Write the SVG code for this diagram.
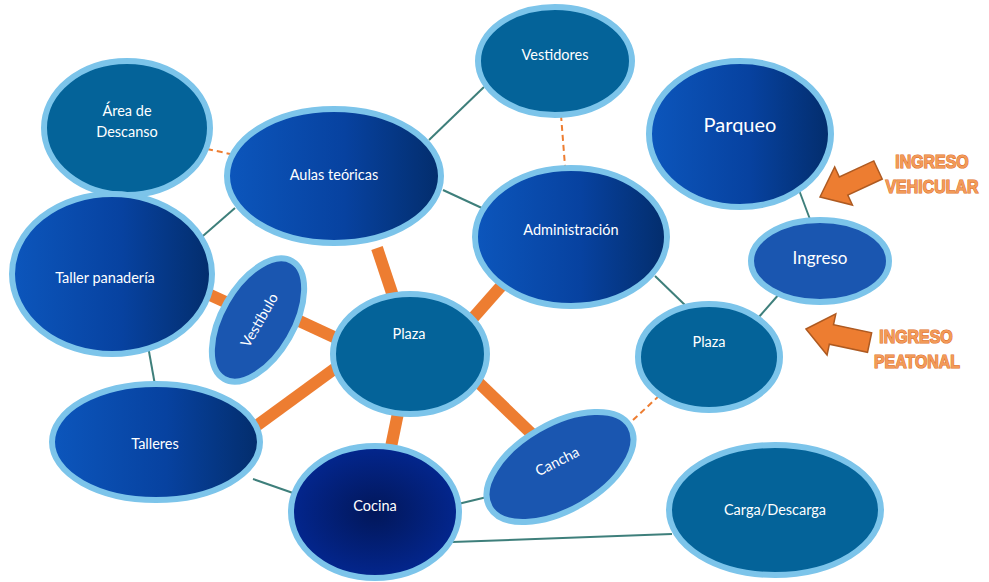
<svg xmlns="http://www.w3.org/2000/svg" width="989" height="582" viewBox="0 0 989 582">
<defs>
<linearGradient id="gBlue" x1="0" y1="0" x2="1" y2="0">
<stop offset="0" stop-color="#0C56BC"/>
<stop offset="0.55" stop-color="#0742A0"/>
<stop offset="1" stop-color="#032D6C"/>
</linearGradient>
<radialGradient id="gCocina" cx="0.5" cy="0.5" r="0.5">
<stop offset="0" stop-color="#02175A"/>
<stop offset="1" stop-color="#03268E"/>
</radialGradient>
<style>
.n{stroke:#7CC4EA;stroke-width:6}
.teal{fill:#046399}
.grad{fill:url(#gBlue)}
.mid{fill:#1A56B0}
.t{font-family:Lato,"Liberation Sans",sans-serif;font-size:14.5px;fill:#FFFFFF;text-anchor:middle;dominant-baseline:central}
.thin{stroke:#3E7F7B;stroke-width:2;fill:none}
.dash{stroke:#ED7D31;stroke-width:2;stroke-dasharray:6 4;fill:none}
.thick{stroke:#ED7D31;stroke-width:12;fill:none}
.arrow{fill:#ED7D31;stroke:#AE5A21;stroke-width:1.5}
.lbl{font-family:"Liberation Sans",Arial,sans-serif;font-weight:bold;font-size:19px;fill:#F29A58;stroke:#E0702A;stroke-width:1.2;paint-order:stroke;text-anchor:middle;dominant-baseline:central}
</style>
</defs>
<rect width="989" height="582" fill="#FFFFFF"/>
<g id="connectors">
<line class="thin" x1="484" y1="87" x2="429" y2="140"/>
<line class="thin" x1="235" y1="208" x2="196" y2="242"/>
<line class="thin" x1="443" y1="190" x2="484" y2="209"/>
<line class="thin" x1="655" y1="276" x2="686" y2="306"/>
<line class="thin" x1="799" y1="190" x2="811" y2="222"/>
<line class="thin" x1="780" y1="293" x2="758" y2="318"/>
<line class="thin" x1="148" y1="346" x2="155" y2="385"/>
<line class="thin" x1="253" y1="479" x2="293" y2="493"/>
<line class="thin" x1="458" y1="504" x2="487" y2="497"/>
<line class="thin" x1="452" y1="542" x2="672" y2="534"/>
<line class="dash" x1="207" y1="149" x2="235" y2="155"/>
<line class="dash" x1="127" y1="192" x2="120" y2="217"/>
<line class="dash" x1="561" y1="115" x2="565" y2="166"/>
<line class="dash" x1="633" y1="420" x2="660" y2="395"/>
<line class="thick" x1="377" y1="248" x2="393" y2="296"/>
<line class="thick" x1="503" y1="284" x2="473" y2="318"/>
<line class="thick" x1="208" y1="294" x2="232" y2="305"/>
<line class="thick" x1="295" y1="319" x2="336" y2="338"/>
<line class="thick" x1="337" y1="367" x2="248" y2="432"/>
<line class="thick" x1="398" y1="413" x2="391" y2="447"/>
<line class="thick" x1="479" y1="383" x2="535" y2="437"/>
</g>
<g id="vestidores"><ellipse class="n teal" cx="555" cy="61" rx="77" ry="54"/><text class="t" x="555" y="54">Vestidores</text></g>
<g id="area-descanso"><ellipse class="n teal" cx="127" cy="128" rx="83" ry="67"/><text class="t" x="127" y="110">Área de</text><text class="t" x="127" y="131">Descanso</text></g>
<g id="aulas"><ellipse class="n grad" cx="334" cy="176" rx="107" ry="67"/><text class="t" x="334" y="174">Aulas teóricas</text></g>
<g id="administracion"><ellipse class="n grad" cx="571" cy="237" rx="96" ry="69"/><text class="t" x="571" y="229">Administración</text></g>
<g id="parqueo"><ellipse class="n grad" cx="740" cy="134" rx="91" ry="73"/><text class="t" x="740" y="124" style="font-size:20px">Parqueo</text></g>
<g id="ingreso"><ellipse class="n mid" cx="820" cy="261" rx="69" ry="41"/><text class="t" x="820" y="257" style="font-size:17px">Ingreso</text></g>
<g id="plaza-ingreso"><ellipse class="n teal" cx="709" cy="357" rx="71" ry="53"/><text class="t" x="709" y="341">Plaza</text></g>
<g id="taller-panaderia"><ellipse class="n grad" cx="112" cy="274" rx="100" ry="80"/><text class="t" x="105" y="277">Taller panadería</text></g>
<g id="vestibulo"><ellipse class="n mid" cx="258" cy="320" rx="68" ry="36" transform="rotate(-60 258 320)"/><text class="t" x="259" y="320" transform="rotate(-60 259 320)">Vestíbulo</text></g>
<g id="plaza"><ellipse class="n teal" cx="410" cy="354" rx="77" ry="60"/><text class="t" x="409" y="333">Plaza</text></g>
<g id="talleres"><ellipse class="n grad" cx="156" cy="442" rx="104" ry="58"/><text class="t" x="155" y="443">Talleres</text></g>
<g id="cocina"><ellipse class="n" fill="url(#gCocina)" cx="375" cy="512" rx="84" ry="66"/><text class="t" x="375" y="505">Cocina</text></g>
<g id="cancha"><ellipse class="n mid" cx="560" cy="467" rx="81" ry="43" transform="rotate(-30 560 467)"/><text class="t" x="557" y="461" transform="rotate(-27 557 461)">Cancha</text></g>
<g id="carga-descarga"><ellipse class="n teal" cx="775" cy="510" rx="106" ry="65"/><text class="t" x="775" y="509">Carga/Descarga</text></g>
<g id="ingreso-vehicular">
<polygon class="arrow" points="0,0 26,-21 26,-10 64,-10 64,10 26,10 26,21" transform="translate(820 197) rotate(-25)"/>
<text class="lbl" x="0" y="0" transform="translate(932 162) scale(0.84 1)">INGRESO</text>
<text class="lbl" x="0" y="0" transform="translate(932 187) scale(0.84 1)">VEHICULAR</text>
</g>
<g id="ingreso-peatonal">
<polygon class="arrow" points="0,0 26,-21 26,-10 65,-10 65,10 26,10 26,21" transform="translate(806 329) rotate(12)"/>
<text class="lbl" x="0" y="0" transform="translate(916 337) scale(0.84 1)">INGRESO</text>
<text class="lbl" x="0" y="0" transform="translate(917 362) scale(0.84 1)">PEATONAL</text>
</g>
</svg>
